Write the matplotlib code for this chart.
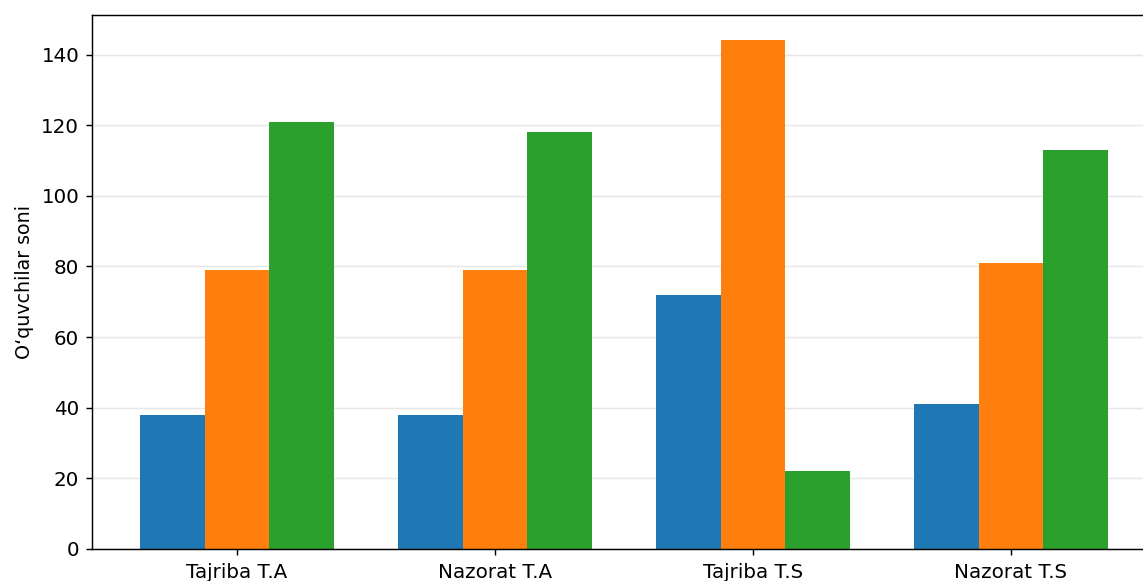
import matplotlib
matplotlib.use("Agg")
import matplotlib.pyplot as plt
import numpy as np

# Guruhlar va qiymatlar (rasmdan o'qilgan)
guruhlar = ["Tajriba T.A", "Nazorat T.A", "Tajriba T.S", "Nazorat T.S"]
daraja_1 = [38, 38, 72, 41]
daraja_2 = [79, 79, 144, 81]
daraja_3 = [121, 118, 22, 113]

plt.rcParams["font.size"] = 11

dpi = 130
fig = plt.figure(figsize=(1143 / dpi, 581 / dpi), dpi=dpi)
W, H = 1143, 581
# rasm o'ng va pastki tomondan kesilgan ko'rinishda
ax = fig.add_axes([92 / W, (H - 549) / H, (1156 - 92) / W, (549 - 15) / H])

x = np.arange(len(guruhlar))
width = 0.25
ax.bar(x - width, daraja_1, width, color="#1f77b4")
ax.bar(x, daraja_2, width, color="#ff7f0e")
ax.bar(x + width, daraja_3, width, color="#2ca02c")

ax.set_xticks(x)
ax.set_xticklabels(guruhlar)
ax.tick_params(axis="x", pad=4.5)
ax.set_ylabel("O‘quvchilar soni", fontsize=10.5)
ax.yaxis.grid(True, alpha=0.3)
ax.set_axisbelow(True)

fig.savefig("out.png", dpi=dpi)
